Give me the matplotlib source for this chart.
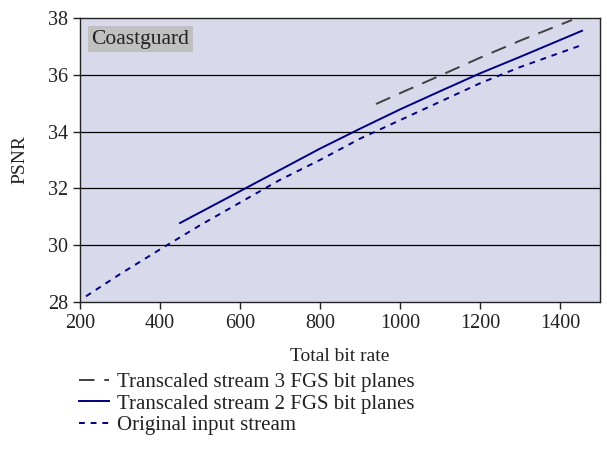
import matplotlib
matplotlib.use("Agg")
import matplotlib.pyplot as plt

# data
x_three = [940, 1000, 1100, 1200, 1300, 1430]
y_three = [34.97, 35.35, 35.97, 36.6, 37.2, 37.93]

x_two = [450, 600, 700, 800, 900, 1000, 1100, 1200, 1300, 1455]
y_two = [30.78, 31.9, 32.65, 33.4, 34.1, 34.78, 35.42, 36.05, 36.63, 37.55]

x_orig = [215, 300, 400, 500, 600, 700, 800, 900, 1000, 1100, 1200, 1300, 1455]
y_orig = [28.2, 28.98, 29.85, 30.7, 31.5, 32.3, 33.0, 33.75, 34.4, 35.05, 35.7, 36.27, 37.05]

labels = ["Transcaled stream 3 FGS bit planes",
          "Transcaled stream 2 FGS bit planes",
          "Original input stream"]
xticks = [200, 400, 600, 800, 1000, 1200, 1400]
yticks = [28, 30, 32, 34, 36, 38]

plt.rcParams['font.family'] = ['Liberation Serif', 'DejaVu Serif']
plt.rcParams['font.size'] = 14

fig = plt.figure(figsize=(6.07, 4.61), dpi=100)
ax = fig.add_axes([0.1318, 0.345, 0.8567, 0.616])
ax.set_facecolor('#d9d9ec')

l1, = ax.plot(x_three, y_three, color='#404040', lw=1.4, dashes=(8, 5))
l2, = ax.plot(x_two, y_two, color='#000080', lw=1.4)
l3, = ax.plot(x_orig, y_orig, color='#000080', lw=1.4, dashes=(3, 3))

ax.set_xlim(200, 1500)
ax.set_ylim(28, 38)
ax.set_xticks(xticks)
ax.set_yticks(yticks)
for v in yticks[1:-1]:
    ax.axhline(v, color='black', lw=0.9, zorder=1)
ax.tick_params(direction='out', length=5, width=1, colors='#222222',
               labelcolor='#222222', labelsize=14.5)
for s in ax.spines.values():
    s.set_color('#222222')
    s.set_linewidth(1.0)

ax.set_xlabel('Total bit rate', color='#222222', labelpad=11, fontsize=14)
ax.set_ylabel('PSNR', color='#222222', labelpad=14, fontsize=14)

ax.text(0.022, 0.925, 'Coastguard', transform=ax.transAxes, fontsize=15.5,
        color='#222222', va='center', ha='left',
        bbox=dict(facecolor='#c0c0c0', edgecolor='none', pad=2.5))

fig.legend([l1, l2, l3], labels, loc='upper left', bbox_to_anchor=(0.13, 0.192),
           frameon=False, handlelength=1.45, handletextpad=0.4, labelspacing=0.1,
           fontsize=15, labelcolor='#222222', borderaxespad=0, borderpad=0)

fig.savefig('out.png', dpi=100)
